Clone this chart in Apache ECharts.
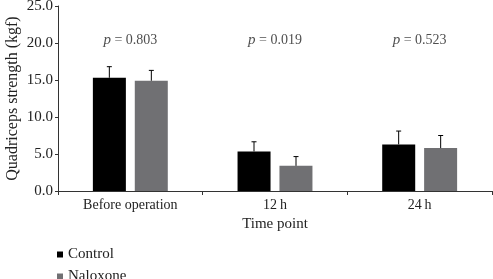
<!DOCTYPE html>
<html>
<head>
<meta charset="utf-8">
<script src="https://cdn.jsdelivr.net/npm/echarts@6/dist/echarts.min.js"></script>
<style>
  html, body { margin: 0; padding: 0; background: #fff; }
  #main { width: 493px; height: 279px; }
</style>
</head>
<body>
<div id="main"></div>
<script>
// data
var categories = ['Before operation', '12\u2009h', '24\u2009h'];
var controlMean = [15.3, 5.35, 6.3];
var controlUpper = [16.8, 6.65, 8.1];
var naloxoneMean = [14.9, 3.4, 5.8];
var naloxoneUpper = [16.3, 4.65, 7.5];
var pValues = ['0.803', '0.019', '0.523'];
var pLabelY = 20.4;

var FONT = 'Liberation Serif';
var TXT = '#222';
var BAR_W = 33;
var OFFSET = 21; // half of bar width + gap

function errData(mean, upper) {
  var out = [];
  for (var i = 0; i < mean.length; i++) out.push([i, mean[i], upper[i]]);
  return out;
}

function errRender(sign) {
  return function (params, api) {
    var top = api.coord([api.value(0), api.value(2)]);
    var base = api.coord([api.value(0), api.value(1)]);
    var x = top[0] + sign * OFFSET;
    return {
      type: 'group',
      children: [
        { type: 'line', shape: { x1: x, y1: base[1], x2: x, y2: top[1] },
          style: { stroke: '#000', lineWidth: 1 } },
        { type: 'line', shape: { x1: x - 2.5, y1: top[1], x2: x + 2.5, y2: top[1] },
          style: { stroke: '#000', lineWidth: 1 } }
      ]
    };
  };
}

function legendAt(name, top) {
  return {
    left: 52,
    top: top,
    itemWidth: 6,
    itemHeight: 6,
    icon: 'rect',
    data: [name],
    textStyle: { fontFamily: FONT, fontSize: 15, color: TXT }
  };
}

var chart = echarts.init(document.getElementById('main'));
var option = {
  animation: false,
  textStyle: { fontFamily: FONT },
  grid: { left: 58, right: 1, top: 6, bottom: 88, outerBoundsMode: 'none', containLabel: false },
  legend: [legendAt('Control', 242), legendAt('Naloxone', 264)],
  xAxis: {
    type: 'category',
    data: categories,
    name: 'Time point',
    nameLocation: 'middle',
    nameGap: 26,
    nameMoveOverlap: false,
    nameTextStyle: { fontFamily: FONT, fontSize: 15, color: TXT },
    axisLine: { lineStyle: { color: '#333', width: 1 } },
    axisTick: { show: true, length: 4, lineStyle: { color: '#333' } },
    axisLabel: { fontFamily: FONT, fontSize: 14, color: TXT, margin: 7 }
  },
  yAxis: {
    type: 'value',
    min: 0,
    max: 25,
    interval: 5,
    name: 'Quadriceps strength (kgf)',
    nameLocation: 'middle',
    nameGap: 37,
    nameMoveOverlap: false,
    nameTextStyle: { fontFamily: FONT, fontSize: 16, color: TXT },
    axisLine: { show: true, lineStyle: { color: '#333', width: 1 } },
    axisTick: { show: true, length: 3, lineStyle: { color: '#333' } },
    splitLine: { show: false },
    axisLabel: {
      fontFamily: FONT, fontSize: 15, color: TXT, margin: 5,
      formatter: function (v) { return v.toFixed(1); }
    }
  },
  series: [
    {
      name: 'Control',
      type: 'bar',
      data: controlMean,
      barWidth: BAR_W,
      barGap: '27%',
      itemStyle: { color: '#000000' }
    },
    {
      name: 'Naloxone',
      type: 'bar',
      data: naloxoneMean,
      barWidth: BAR_W,
      itemStyle: { color: '#707073' }
    },
    {
      type: 'custom',
      renderItem: errRender(-1),
      data: errData(controlMean, controlUpper),
      z: 5
    },
    {
      type: 'custom',
      renderItem: errRender(1),
      data: errData(naloxoneMean, naloxoneUpper),
      z: 5
    },
    {
      type: 'scatter',
      symbolSize: 0,
      data: pValues.map(function (p, i) { return [i, pLabelY, p]; }),
      label: {
        show: true,
        position: 'inside',
        formatter: function (d) { return '{i|p} = ' + d.value[2]; },
        fontFamily: FONT,
        fontSize: 14,
        color: TXT,
        rich: { i: { fontStyle: 'italic', fontFamily: FONT, fontSize: 15, color: TXT } }
      },
      silent: true
    }
  ]
};
chart.setOption(option);
</script>
</body>
</html>
